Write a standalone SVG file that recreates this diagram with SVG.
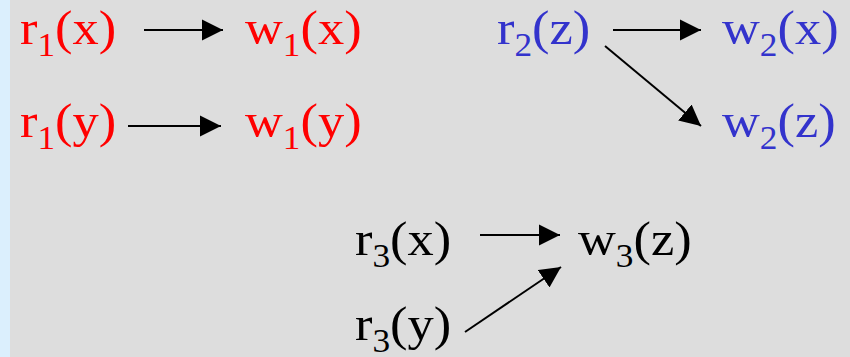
<svg xmlns="http://www.w3.org/2000/svg" width="850" height="357" viewBox="0 0 850 357">
<defs>
<style>
text{font-family:'Liberation Serif','Times New Roman',Times,serif;font-size:49px}
.sub{font-size:33px}
.red{fill:#ff0000}
.blue{fill:#3333cc}
.blk{fill:#000000}
.edge{stroke:#000;stroke-width:2;fill:none;marker-end:url(#ah)}
</style>
<marker id="ah" markerUnits="userSpaceOnUse" markerWidth="22" markerHeight="22" refX="21" refY="11" orient="auto">
<path d="M0,0.5 L21,11 L0,21.5 z" fill="#000"/>
</marker>
</defs>
<rect x="0" y="0" width="850" height="357" fill="#dddddd"/>
<rect x="0" y="0" width="10" height="357" fill="#dbeffd"/>

<g id="r1x" transform="translate(20,44) scale(1.07,1)"><text class="red">r<tspan class="sub" dy="12">1</tspan><tspan dy="-12">(x)</tspan></text></g>
<g id="w1x" transform="translate(245,44) scale(1.07,1)"><text class="red">w<tspan class="sub" dy="12">1</tspan><tspan dy="-12">(x)</tspan></text></g>
<g id="r1y" transform="translate(20,137) scale(1.07,1)"><text class="red">r<tspan class="sub" dy="12">1</tspan><tspan dy="-12">(y)</tspan></text></g>
<g id="w1y" transform="translate(245,137) scale(1.07,1)"><text class="red">w<tspan class="sub" dy="12">1</tspan><tspan dy="-12">(y)</tspan></text></g>

<g id="r2z" transform="translate(497,44) scale(1.07,1)"><text class="blue">r<tspan class="sub" dy="12">2</tspan><tspan dy="-12">(z)</tspan></text></g>
<g id="w2x" transform="translate(722,44) scale(1.07,1)"><text class="blue">w<tspan class="sub" dy="12">2</tspan><tspan dy="-12">(x)</tspan></text></g>
<g id="w2z" transform="translate(722,137) scale(1.07,1)"><text class="blue">w<tspan class="sub" dy="12">2</tspan><tspan dy="-12">(z)</tspan></text></g>

<g id="r3x" transform="translate(355,255) scale(1.07,1)"><text class="blk">r<tspan class="sub" dy="12">3</tspan><tspan dy="-12">(x)</tspan></text></g>
<g id="w3z" transform="translate(578,255) scale(1.07,1)"><text class="blk">w<tspan class="sub" dy="12">3</tspan><tspan dy="-12">(z)</tspan></text></g>
<g id="r3y" transform="translate(355,340) scale(1.07,1)"><text class="blk">r<tspan class="sub" dy="12">3</tspan><tspan dy="-12">(y)</tspan></text></g>

<g id="connectors">
<line class="edge" x1="144" y1="30" x2="223" y2="30"/>
<line class="edge" x1="128" y1="126" x2="221" y2="126"/>
<line class="edge" x1="613" y1="30" x2="701" y2="30"/>
<line class="edge" x1="605" y1="46" x2="701" y2="126"/>
<line class="edge" x1="480" y1="235" x2="560" y2="235"/>
<line class="edge" x1="465" y1="332" x2="561" y2="267"/>
</g>
</svg>
